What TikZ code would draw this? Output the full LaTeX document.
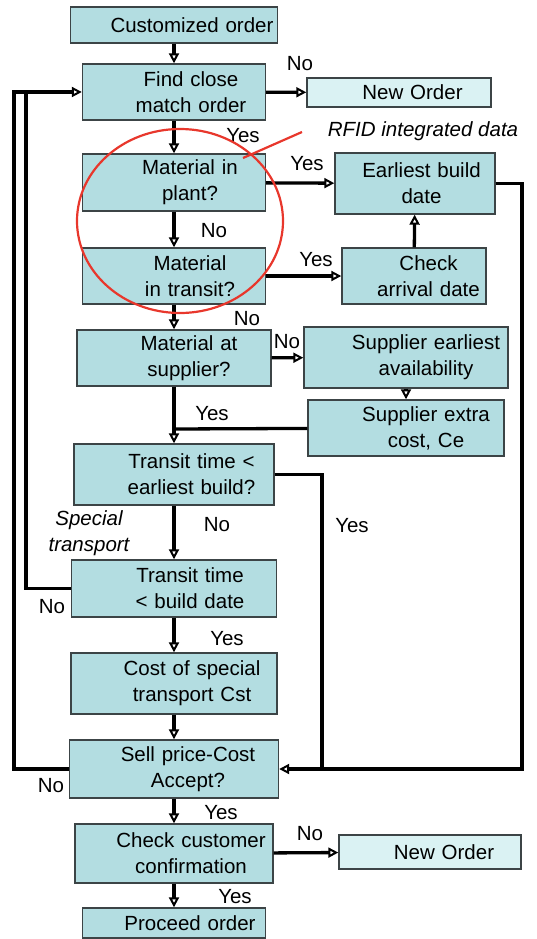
\documentclass[tikz,border=0pt]{standalone}
\usepackage{fontspec}
\setmainfont{Liberation Sans}
\usetikzlibrary{arrows.meta}
\definecolor{boxcyan}{HTML}{B3DDE1}
\definecolor{boxpale}{HTML}{DAF2F3}
\definecolor{boxedge}{HTML}{3C4446}
\definecolor{rfidred}{HTML}{E8372C}
\newcommand{\tpad}{34pt}
\newcommand{\flowfont}{\fontsize{20.5}{26}\selectfont}

\begin{document}
\begin{tikzpicture}[
  x=1pt, y=-1pt,
  tpad/.code={\def\tpad{#1}},
  box/.style={draw=boxedge, line width=1.4pt, fill=boxcyan, inner sep=0pt, align=center, font=\flowfont, execute at begin node={\advance\leftskip by \tpad}},
  pale/.style={box, fill=boxpale},
  lbl/.style={inner sep=0pt, font=\flowfont},
  arr/.style={-{Triangle[open, length=10pt, width=10pt, line width=2pt]}, line width=3.3pt},
  link/.style={line width=3.3pt},
  rfidmark/.style={draw=rfidred, line width=2.2pt},
]
\useasboundingbox (0,0) rectangle (536,939);
\node[box, text width=207pt, minimum height=36pt, tpad=36pt] (cust) at (174,25) {Customized order};
\node[box, text width=183pt, minimum height=56pt] (find) at (174,92) {Find close\\match order};
\node[pale, text width=184pt, minimum height=29pt, tpad=27pt] (neworder1) at (399,92.5) {New Order};
\node[box, text width=183pt, minimum height=57pt, tpad=32pt] (plant) at (174,182.5) {Material in\\plant?};
\node[box, text width=160pt, minimum height=61pt, tpad=13pt] (early) at (415,183.5) {Earliest build\\date};
\node[box, text width=183pt, minimum height=56pt, tpad=32pt] (transit) at (174,276) {Material\\in transit?};
\node[box, text width=144pt, minimum height=56pt, tpad=29pt] (arrival) at (414,276) {Check\\arrival date};
\node[box, text width=194pt, minimum height=56pt, tpad=30pt] (supplier) at (174,358) {Material at\\supplier?};
\node[box, text width=204pt, minimum height=61pt, tpad=40pt] (suppearly) at (406,357.5) {Supplier earliest\\availability};
\node[box, text width=196pt, minimum height=56pt, tpad=40pt] (suppcost) at (406,428) {Supplier extra\\cost, Ce};
\node[box, text width=200pt, minimum height=61pt, tpad=35pt] (earlybuild) at (174,474.5) {Transit time <\\earliest build?};
\node[box, text width=205pt, minimum height=57pt, tpad=32pt] (builddate) at (174,588.5) {Transit time\\< build date};
\node[box, text width=206pt, minimum height=61pt, tpad=36pt] (special) at (174,683.5) {Cost of special\\transport Cst};
\node[box, text width=209pt, minimum height=58pt, tpad=28pt] (accept) at (174,769) {Sell price-Cost\\Accept?};
\node[box, text width=198pt, minimum height=59pt, tpad=34pt] (confirm) at (174,853.5) {Check customer\\confirmation};
\node[pale, text width=182pt, minimum height=34pt, tpad=28pt] (neworder2) at (430,852) {New Order};
\node[box, text width=183pt, minimum height=30pt, tpad=32pt] (proceed) at (174,923) {Proceed order};

\coordinate (backouter) at (14,92);
\coordinate (backinner) at (26,92);
\coordinate (rightrun) at (522,183.5);
\coordinate (yesjoin) at (322,769);
\coordinate (costjoin) at (174,429);
\coordinate (rfidtip) at (243,158);
\coordinate (rfidend) at (302,132);

\draw[arr] (cust) -- (find);
\draw[arr] (find) -- (neworder1);
\draw[arr] (find) -- (plant);
\draw[arr] (plant) -- (early);
\draw[arr] (plant) -- (transit);
\draw[arr] (transit) -- (arrival);
\draw[arr] (arrival) -- (early);
\draw[arr] (transit) -- (supplier);
\draw[arr] (supplier) -- (suppearly);
\draw[arr] (suppearly) -- (suppcost);
\draw[arr] (supplier) -- (earlybuild);
\draw[link] (suppcost) -- (costjoin);
\draw[arr] (earlybuild) -- (builddate);
\draw[link] (earlybuild) -| (yesjoin);
\draw[arr] (early) -- (rightrun) |- (accept);
\draw[link] (builddate) -| (backinner);
\draw[arr] (builddate) -- (special);
\draw[arr] (special) -- (accept);
\draw[arr] (accept) -| (backouter) -- (find);
\draw[arr] (accept) -- (confirm);
\draw[arr] (confirm) -- (neworder2);
\draw[arr] (confirm) -- (proceed);

\node[lbl] (nofind) at (300,64) {No};
\node[lbl] (yesfind) at (243,136) {Yes};
\node[lbl] (yesplant) at (307,164) {Yes};
\node[lbl] (noplant) at (214,231) {No};
\node[lbl] (yestransit) at (316,260) {Yes};
\node[lbl] (notransit) at (247,319) {No};
\node[lbl] (nosupplier) at (287,342) {No};
\node[lbl] (yessupplier) at (212,414) {Yes};
\node[lbl] (noearly) at (217,525) {No};
\node[lbl] (yesearly) at (352,526) {Yes};
\node[lbl, font=\flowfont\itshape, align=center] (specialnote) at (89,533) {Special\\transport};
\node[lbl] (nobuild) at (52,607) {No};
\node[lbl] (yesbuild) at (227,639) {Yes};
\node[lbl] (noaccept) at (51,786) {No};
\node[lbl] (yesaccept) at (221,813) {Yes};
\node[lbl] (noconfirm) at (310,834) {No};
\node[lbl] (yesconfirm) at (235,897) {Yes};
\node[lbl, font=\flowfont\itshape] (rfid) at (423,131) {RFID integrated data};

\draw[rfidmark] (180,221) ellipse [x radius=103pt, y radius=92pt];
\draw[rfidmark] (rfidtip) -- (rfidend);
\end{tikzpicture}
\end{document}
